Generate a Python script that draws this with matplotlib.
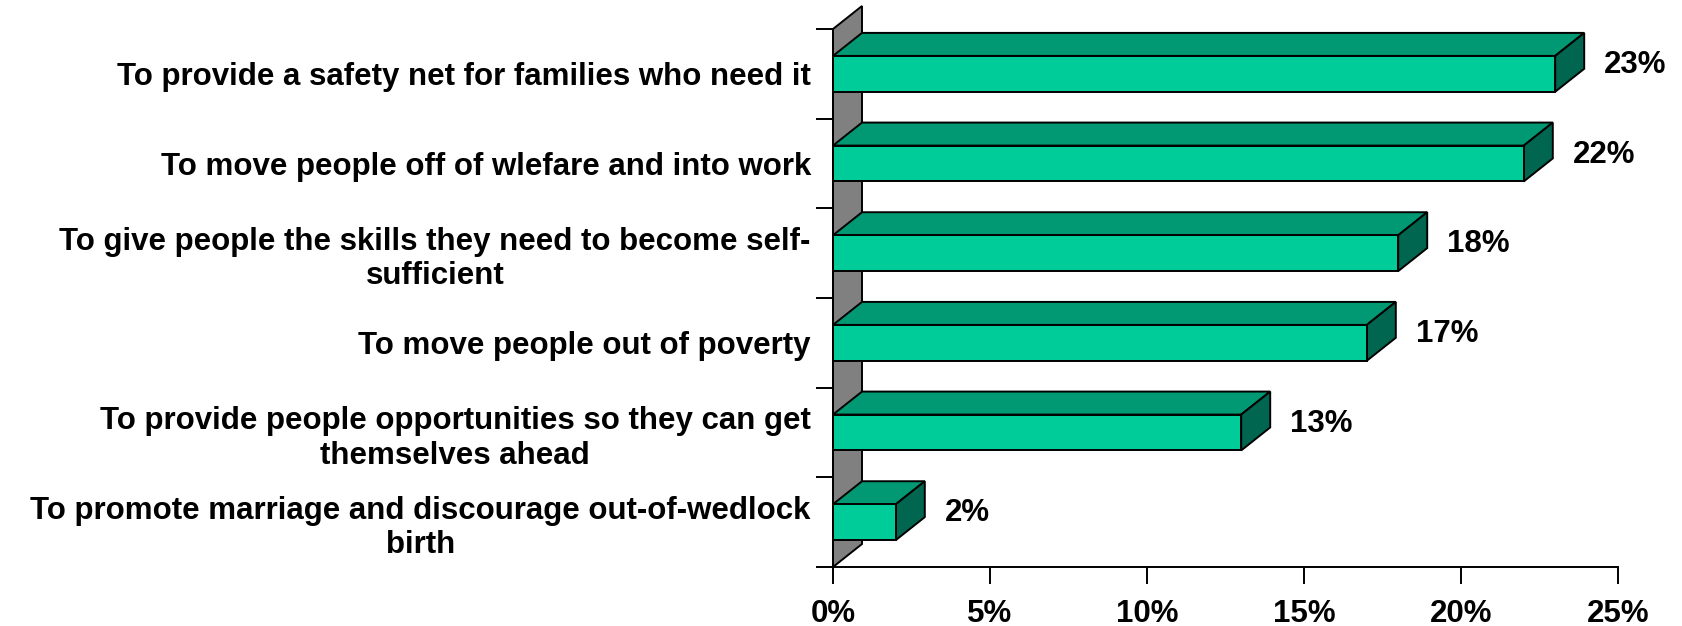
import matplotlib.pyplot as plt
from matplotlib.patches import Polygon

plt.rcParams['font.family'] = ['Liberation Sans', 'DejaVu Sans']
plt.rcParams['font.weight'] = 'bold'

categories = [
    "To provide a safety net for families who need it",
    "To move people off of wlefare and into work",
    "To give people the skills they need to become self-\nsufficient",
    "To move people out of poverty",
    "To provide people opportunities so they can get\nthemselves ahead",
    "To promote marriage and discourage out-of-wedlock\nbirth",
]
values = [23, 22, 18, 17, 13, 2]
xticks = [0, 5, 10, 15, 20, 25]
xlabels = ["0%", "5%", "10%", "15%", "20%", "25%"]

front_c = "#00CC99"
top_c = "#009973"
side_c = "#006650"
wall_c = "#808080"
fs = 22.5

W, H = 1682, 626
fig = plt.figure(figsize=(W / 100, H / 100), dpi=100)
x0, x1, y0, y1 = 833, 1618, 567, 29
ax = fig.add_axes([x0 / W, (H - y0) / H, (x1 - x0) / W, (y0 - y1) / H])
n = len(categories)
ax.set_xlim(0, 25)
ax.set_ylim(0, n)

# depth of the 3d effect, in data units
px_x = 25 / (x1 - x0)
px_y = n / (y0 - y1)
dx = 29 * px_x
dy = 23 * px_y
bar_h = 0.4
lw = 1.4

# back wall
ax.add_patch(Polygon([(0, 0), (dx, dy), (dx, n + dy), (0, n)], closed=True,
                     facecolor=wall_c, edgecolor="black", lw=lw, clip_on=False, zorder=1))

for i, v in enumerate(values):
    yc = n - 0.5 - i
    yb, yt = yc - bar_h / 2, yc + bar_h / 2
    ax.add_patch(Polygon([(0, yt), (v, yt), (v + dx, yt + dy), (dx, yt + dy)], closed=True,
                         facecolor=top_c, edgecolor="black", lw=lw, clip_on=False, zorder=3))
    ax.add_patch(Polygon([(v, yb), (v, yt), (v + dx, yt + dy), (v + dx, yb + dy)], closed=True,
                         facecolor=side_c, edgecolor="black", lw=lw, clip_on=False, zorder=3))
    ax.add_patch(Polygon([(0, yb), (v, yb), (v, yt), (0, yt)], closed=True,
                         facecolor=front_c, edgecolor="black", lw=lw, clip_on=False, zorder=4))
    ax.text(v + dx + 20 * px_x, yc + 0.1, f"{v}%", ha="left", va="center",
            fontsize=fs, fontweight="bold")

for s in ["top", "right"]:
    ax.spines[s].set_visible(False)
for s in ["left", "bottom"]:
    ax.spines[s].set_linewidth(lw)
    ax.spines[s].set_zorder(5)

ax.set_xticks(xticks)
ax.set_xticklabels(xlabels, fontsize=fs, fontweight="bold")
ax.tick_params(axis="x", length=12, width=lw, pad=11)

ax.set_yticks(range(n + 1))
ax.set_yticklabels([])
ax.tick_params(axis="y", which="major", length=12, width=lw)
ax.set_yticks([n - 0.5 - i for i in range(n)], minor=True)
ax.set_yticklabels(categories, minor=True, fontsize=fs, fontweight="bold")
ax.tick_params(axis="y", which="minor", length=0, pad=16)
for t in ax.get_yticklabels(minor=True):
    t.set_multialignment("center")

fig.savefig("out.png", dpi=100)
